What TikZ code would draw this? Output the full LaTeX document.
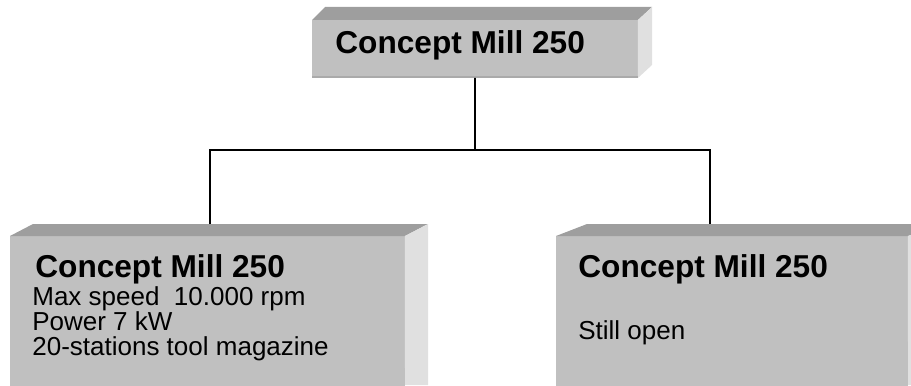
\documentclass[tikz,border=0pt]{standalone}
\usepackage{fontspec}
\setmainfont{Liberation Sans}
\usetikzlibrary{calc}
\definecolor{boxgrey}{RGB}{192, 192, 192}
\definecolor{lidgrey}{RGB}{158, 158, 158}
\definecolor{sidegrey}{RGB}{224, 224, 224}
\definecolor{rimgrey}{RGB}{170, 170, 170}

\begin{document}
\begin{tikzpicture}[x=0.02cm,y=-0.02cm]

\tikzstyle{front} = [fill=boxgrey, draw=none, inner sep=0, outer sep=0,
    anchor=north west]
\tikzstyle{lid} = [fill=lidgrey]
\tikzstyle{side} = [fill=sidegrey]
\tikzstyle{title} = [anchor=base west, inner sep=0,
    font=\fontsize{18}{20}\selectfont\bfseries]
\tikzstyle{body} = [anchor=base west, inner sep=0,
    font=\fontsize{14.8}{16}\selectfont]
\tikzstyle{wire} = [line width=1.1pt, line join=miter]

\useasboundingbox (0,0) rectangle (911,385);
\clip (0,0) rectangle (911,385);

% =========================
% top box
% =========================
\node[front, minimum width=6.52cm, minimum height=1.16cm] (top) at (312,20) {};
\fill[lid] (top.north west) -- ++(13,-13) -- (652,7) -- (top.north east) -- cycle;
\fill[side] (top.north east) -- (652,7) -- (652,65) -- (top.south east) -- cycle;
\fill[rimgrey] ($(top.south west)+(0,-2)$) rectangle (top.south east);
\node[title] (toptitle) at (335,53) {Concept Mill 250};

% =========================
% bottom left box
% =========================
\node[front, minimum width=7.9cm, minimum height=3cm] (left) at (10,236) {};
\fill[lid] (left.north west) -- ++(23,-12) -- (428,224) -- (left.north east) -- cycle;
\fill[side] (left.north east) -- (428,224) -- (428,385) -- (405,385) -- cycle;
\node[title] (lefttitle) at (35,277) {Concept Mill 250};
\node[body] (leftspeed) at (32,305) {Max speed\ \ 10.000 rpm};
\node[body] (leftpower) at (32,330) {Power 7 kW};
\node[body] (leftmag) at (32,355) {20-stations tool magazine};

% =========================
% bottom right box
% =========================
\node[front, minimum width=7.04cm, minimum height=3cm] (right) at (556,236) {};
\fill[lid] (right.north west) -- ++(31,-12) -- (940,224) -- (right.north east) -- cycle;
\fill[side] (right.north east) -- (940,224) -- (940,385) -- (908,385) -- cycle;
\node[title] (righttitle) at (578,277) {Concept Mill 250};
\node[body] (rightopen) at (578,339) {Still open};

% =========================
% connectors
% =========================
\coordinate (bus) at (475,150);
\coordinate (lefttap) at (210,224);
\coordinate (righttap) at (710,224);
\draw[wire] (top.south) -- (bus);
\draw[wire] (lefttap) |- (bus) -| (righttap);

\end{tikzpicture}
\end{document}
